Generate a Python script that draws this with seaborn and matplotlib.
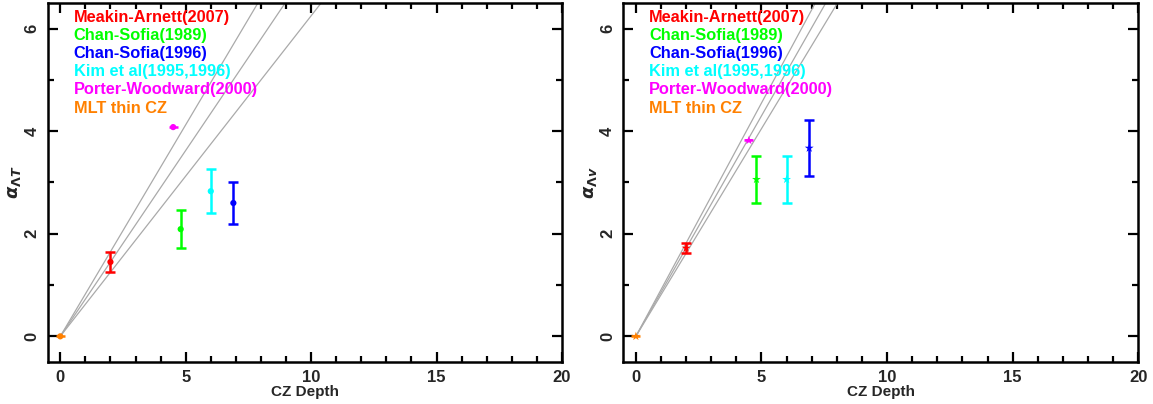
import numpy as np
import pandas as pd
import matplotlib
matplotlib.use("Agg")
import matplotlib.pyplot as plt
import seaborn as sns
from matplotlib.ticker import MultipleLocator

# Simulation results for the mixing-length parameters versus convection-zone depth
studies = ["Meakin-Arnett(2007)", "Chan-Sofia(1989)", "Chan-Sofia(1996)",
           "Kim et al(1995,1996)", "Porter-Woodward(2000)", "MLT thin CZ"]
colors = ["#ff0000", "#00ff00", "#0000ff", "#00ffff", "#ff00ff", "#ff8000"]
depth = [2.0, 4.8, 6.9, 6.0, 4.5, 0.0]
depth_err = [0.0, 0.0, 0.0, 0.0, 0.18, 0.18]
alpha_T = [1.45, 2.09, 2.60, 2.83, 4.08, 0.0]
alpha_T_err = [0.20, 0.37, 0.40, 0.43, 0.0, 0.0]
alpha_v = [1.72, 3.06, 3.67, 3.06, 3.82, 0.0]
alpha_v_err = [0.10, 0.46, 0.55, 0.46, 0.0, 0.0]
x_ticks = [0, 5, 10, 15, 20]
y_ticks = [0, 2, 4, 6]

sns.set_theme(style="ticks")
plt.rcParams["font.family"] = ["Liberation Sans", "DejaVu Sans"]
plt.rcParams["font.weight"] = "bold"
plt.rcParams["axes.labelweight"] = "bold"
plt.rcParams["mathtext.fontset"] = "dejavusans"

fig = plt.figure(figsize=(11.53, 4.04), dpi=100)
ax_l = fig.add_axes([0.0414, 0.104, 0.4460, 0.8886])
ax_r = fig.add_axes([0.5406, 0.104, 0.4467, 0.8886])


def draw_panel(ax, alpha, alpha_err, marker, msize, ylabel):
    df = pd.DataFrame({"study": studies, "depth": depth, "alpha": alpha})
    # guide lines through the origin bracketing the Meakin-Arnett value
    x0, a0, e0 = depth[0], alpha[0], alpha_err[0]
    xs = np.array([0.0, 20.0])
    for a in (a0 + e0, a0, a0 - e0):
        sns.lineplot(x=xs, y=xs * a / x0, ax=ax, color="#aaaaaa", lw=0.9,
                     zorder=1, legend=False)
    for i, s in enumerate(studies):
        ax.errorbar(depth[i], alpha[i],
                    yerr=alpha_err[i] if alpha_err[i] > 0 else None,
                    xerr=depth_err[i] if depth_err[i] > 0 else None,
                    fmt="none", ecolor=colors[i], elinewidth=1.8,
                    capsize=3.6 if alpha_err[i] > 0 else 0, capthick=1.8,
                    zorder=3)
    sns.scatterplot(data=df, x="depth", y="alpha", hue="study",
                    palette=colors, hue_order=studies, marker=marker,
                    s=msize, edgecolor="none", ax=ax, legend=False, zorder=4)
    for i, s in enumerate(studies):
        ax.text(0.53, 6.22 - 0.354 * i, s, color=colors[i], fontsize=11.8,
                fontweight="bold", va="center", ha="left")

    ax.set_xlim(-0.5, 20)
    ax.set_ylim(-0.5, 6.5)
    ax.set_xticks(x_ticks)
    ax.set_yticks(y_ticks)
    ax.xaxis.set_minor_locator(MultipleLocator(1))
    ax.yaxis.set_minor_locator(MultipleLocator(1))
    ax.tick_params(which="both", direction="in", top=True, right=True,
                   width=1.6, color="black", labelsize=12, pad=6)
    ax.tick_params(which="major", length=7)
    ax.tick_params(which="minor", length=4)
    for lab in ax.get_yticklabels():
        lab.set_rotation(90)
        lab.set_va("center")
    for lab in ax.get_xticklabels() + ax.get_yticklabels():
        lab.set_fontweight("bold")
    for sp in ax.spines.values():
        sp.set_visible(True)
        sp.set_linewidth(1.8)
        sp.set_color("black")
    ax.set_xlabel("CZ Depth", fontsize=11, fontweight="bold", labelpad=0)
    ax.set_ylabel(ylabel, fontsize=13, labelpad=1)
    ax.grid(False)


draw_panel(ax_l, alpha_T, alpha_T_err, "o", 20, r"$\alpha_{\Lambda T}$")
draw_panel(ax_r, alpha_v, alpha_v_err, "*", 45, r"$\alpha_{\Lambda v}$")

fig.savefig("out.png", dpi=100)
